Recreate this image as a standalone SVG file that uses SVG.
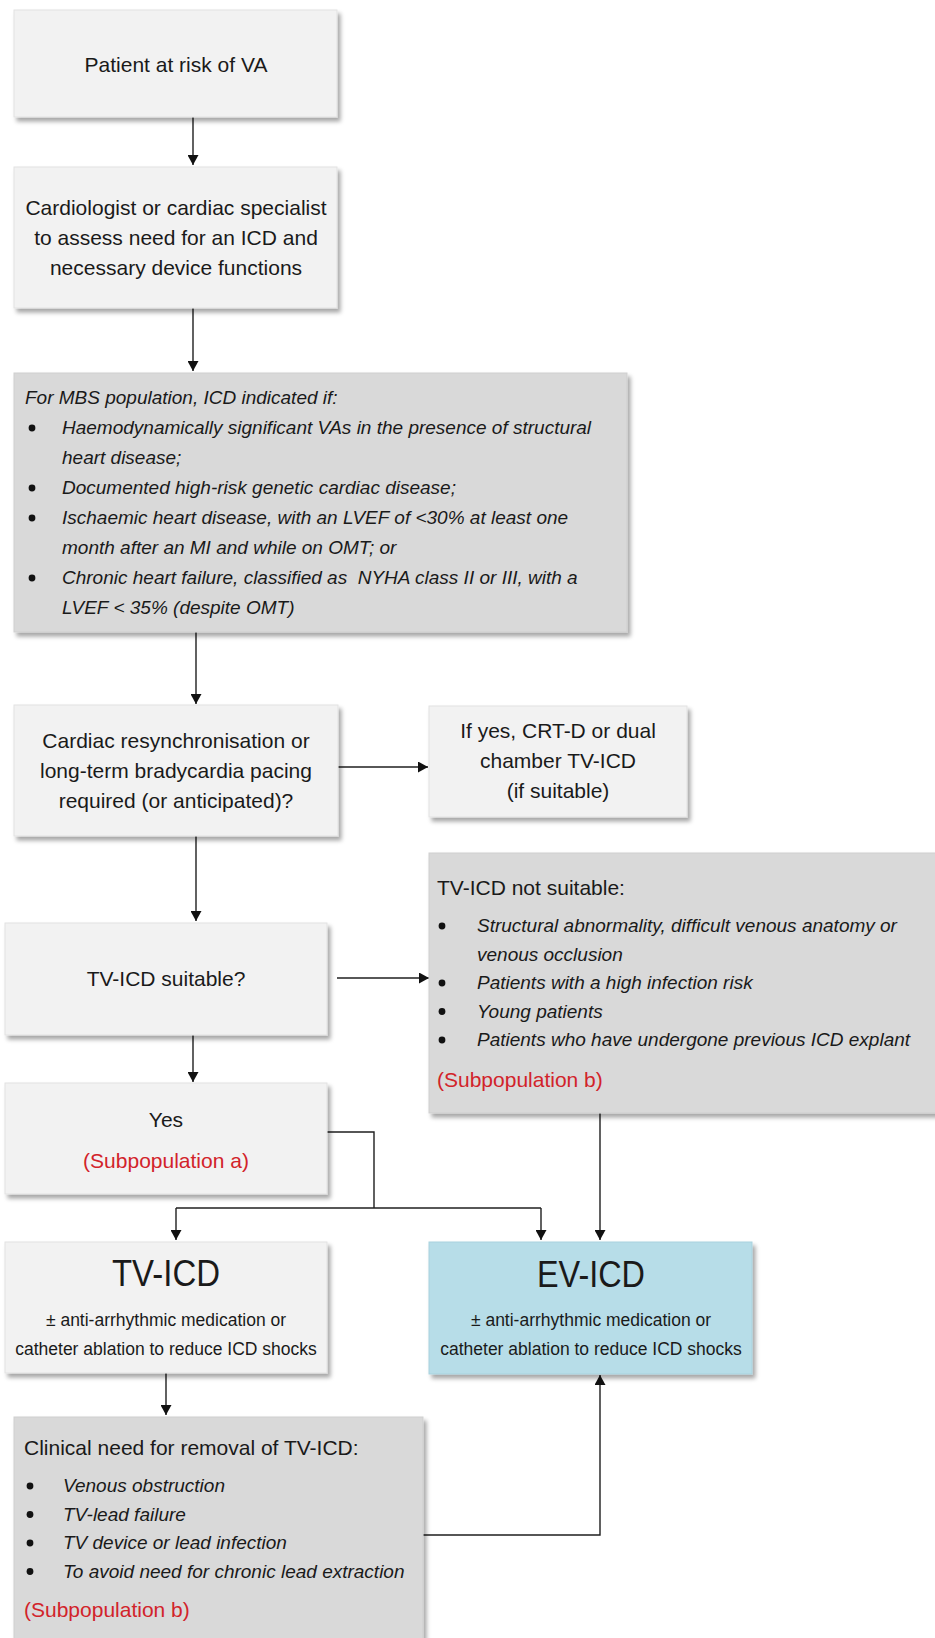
<svg xmlns="http://www.w3.org/2000/svg" width="935" height="1638" viewBox="0 0 935 1638">
<style>
.box{fill:#f2f2f2;stroke:#e2e2e2;stroke-width:1;filter:url(#sh)}
.dark{fill:#d9d9d9;stroke:#cfcfcf;stroke-width:1;filter:url(#sh)}
.blue{fill:#b7dde8;stroke:#a9d2de;stroke-width:1;filter:url(#sh)}
text{font-family:"Liberation Sans",Arial,sans-serif;fill:#1a1a1a}
.t{font-size:21px}
.c{text-anchor:middle}
.i{font-size:19px;font-style:italic}
.s{font-size:17.5px}
.big{font-size:36px}
.red{fill:#d2232a}
.ln{fill:none;stroke:#1f1f1f;stroke-width:1.4}
.ar{marker-end:url(#ah)}
.bul{fill:#111}
</style>
<defs>
<filter id="sh" x="-5%" y="-5%" width="115%" height="120%">
<feDropShadow dx="3" dy="4" stdDeviation="2" flood-color="#000" flood-opacity="0.35"/>
</filter>
<marker id="ah" markerUnits="userSpaceOnUse" markerWidth="11" markerHeight="11" refX="10" refY="5.5" orient="auto">
<path d="M0,0 L10,5.5 L0,11 z" fill="#111"/>
</marker>
</defs>

<g id="connectors">
<path class="ln ar" d="M193,117 V165"/>
<path class="ln ar" d="M193,308 V371"/>
<path class="ln ar" d="M196,632 V704"/>
<path class="ln ar" d="M338,767 H428"/>
<path class="ln ar" d="M196,836 V921"/>
<path class="ln ar" d="M337,978 H429"/>
<path class="ln ar" d="M193,1035 V1082"/>
<path class="ln" d="M327,1132 H374 V1208"/>
<path class="ln" d="M176,1208 H541"/>
<path class="ln ar" d="M176,1208 V1240"/>
<path class="ln ar" d="M541,1208 V1240"/>
<path class="ln ar" d="M600,1113 V1240"/>
<path class="ln ar" d="M166,1373 V1415"/>
<path class="ln ar" d="M423,1535 H600 V1375"/>
</g>

<g id="n1">
<rect class="box" x="14" y="10" width="323" height="107"/>
<text class="t c" x="176" y="72">Patient at risk of VA</text>
</g>

<g id="n2">
<rect class="box" x="14" y="167" width="323" height="141"/>
<text class="t c" x="176" y="215">Cardiologist or cardiac specialist</text>
<text class="t c" x="176" y="245">to assess need for an ICD and</text>
<text class="t c" x="176" y="275">necessary device functions</text>
</g>

<g id="n3">
<rect class="dark" x="14" y="373" width="613" height="259"/>
<text class="i" x="25" y="404">For MBS population, ICD indicated if:</text>
<circle class="bul" cx="32" cy="428" r="3.4"/>
<text class="i" x="62" y="434">Haemodynamically significant VAs in the presence of structural</text>
<text class="i" x="62" y="464">heart disease;</text>
<circle class="bul" cx="32" cy="488" r="3.4"/>
<text class="i" x="62" y="494">Documented high-risk genetic cardiac disease;</text>
<circle class="bul" cx="32" cy="518" r="3.4"/>
<text class="i" x="62" y="524">Ischaemic heart disease, with an LVEF of &lt;30% at least one</text>
<text class="i" x="62" y="554">month after an MI and while on OMT; or</text>
<circle class="bul" cx="32" cy="578" r="3.4"/>
<text class="i" x="62" y="584" xml:space="preserve">Chronic heart failure, classified as  NYHA class II or III, with a</text>
<text class="i" x="62" y="614">LVEF &lt; 35% (despite OMT)</text>
</g>

<g id="n4">
<rect class="box" x="14" y="705" width="324" height="131"/>
<text class="t c" x="176" y="748">Cardiac resynchronisation or</text>
<text class="t c" x="176" y="778">long-term bradycardia pacing</text>
<text class="t c" x="176" y="808">required (or anticipated)?</text>
</g>

<g id="n5">
<rect class="box" x="429" y="706" width="258" height="111"/>
<text class="t c" x="558" y="738">If yes, CRT-D or dual</text>
<text class="t c" x="558" y="768">chamber TV-ICD</text>
<text class="t c" x="558" y="798">(if suitable)</text>
</g>

<g id="n6">
<rect class="box" x="5" y="923" width="322" height="112"/>
<text class="t c" x="166" y="986">TV-ICD suitable?</text>
</g>

<g id="n7">
<rect class="dark" x="429" y="853" width="510" height="260"/>
<text class="t" x="437" y="895">TV-ICD not suitable:</text>
<circle class="bul" cx="442" cy="926" r="3.4"/>
<text class="i" x="477" y="932">Structural abnormality, difficult venous anatomy or</text>
<text class="i" x="477" y="960.5">venous occlusion</text>
<circle class="bul" cx="442" cy="983" r="3.4"/>
<text class="i" x="477" y="989">Patients with a high infection risk</text>
<circle class="bul" cx="442" cy="1011.5" r="3.4"/>
<text class="i" x="477" y="1017.5">Young patients</text>
<circle class="bul" cx="442" cy="1040" r="3.4"/>
<text class="i" x="477" y="1046">Patients who have undergone previous ICD explant</text>
<text class="t red" x="437" y="1087">(Subpopulation b)</text>
</g>

<g id="n8">
<rect class="box" x="5" y="1083" width="322" height="111"/>
<text class="t c" x="166" y="1127">Yes</text>
<text class="t c red" x="166" y="1168">(Subpopulation a)</text>
</g>

<g id="n9">
<rect class="box" x="5" y="1242" width="322" height="131"/>
<text class="big c" x="166" y="1286" textLength="108" lengthAdjust="spacingAndGlyphs">TV-ICD</text>
<text class="s c" x="166" y="1326">± anti-arrhythmic medication or</text>
<text class="s c" x="166" y="1355">catheter ablation to reduce ICD shocks</text>
</g>

<g id="n10">
<rect class="blue" x="429" y="1242" width="323" height="132"/>
<text class="big c" x="591" y="1287" textLength="108" lengthAdjust="spacingAndGlyphs">EV-ICD</text>
<text class="s c" x="591" y="1326">± anti-arrhythmic medication or</text>
<text class="s c" x="591" y="1355">catheter ablation to reduce ICD shocks</text>
</g>

<g id="n11">
<rect class="dark" x="14" y="1417" width="409" height="230"/>
<text class="t" x="24" y="1455">Clinical need for removal of TV-ICD:</text>
<circle class="bul" cx="30" cy="1486" r="3.4"/>
<text class="i" x="63" y="1492">Venous obstruction</text>
<circle class="bul" cx="30" cy="1514.5" r="3.4"/>
<text class="i" x="63" y="1520.5">TV-lead failure</text>
<circle class="bul" cx="30" cy="1543" r="3.4"/>
<text class="i" x="63" y="1549">TV device or lead infection</text>
<circle class="bul" cx="30" cy="1571.5" r="3.4"/>
<text class="i" x="63" y="1577.5">To avoid need for chronic lead extraction</text>
<text class="t red" x="24" y="1617">(Subpopulation b)</text>
</g>
</svg>
